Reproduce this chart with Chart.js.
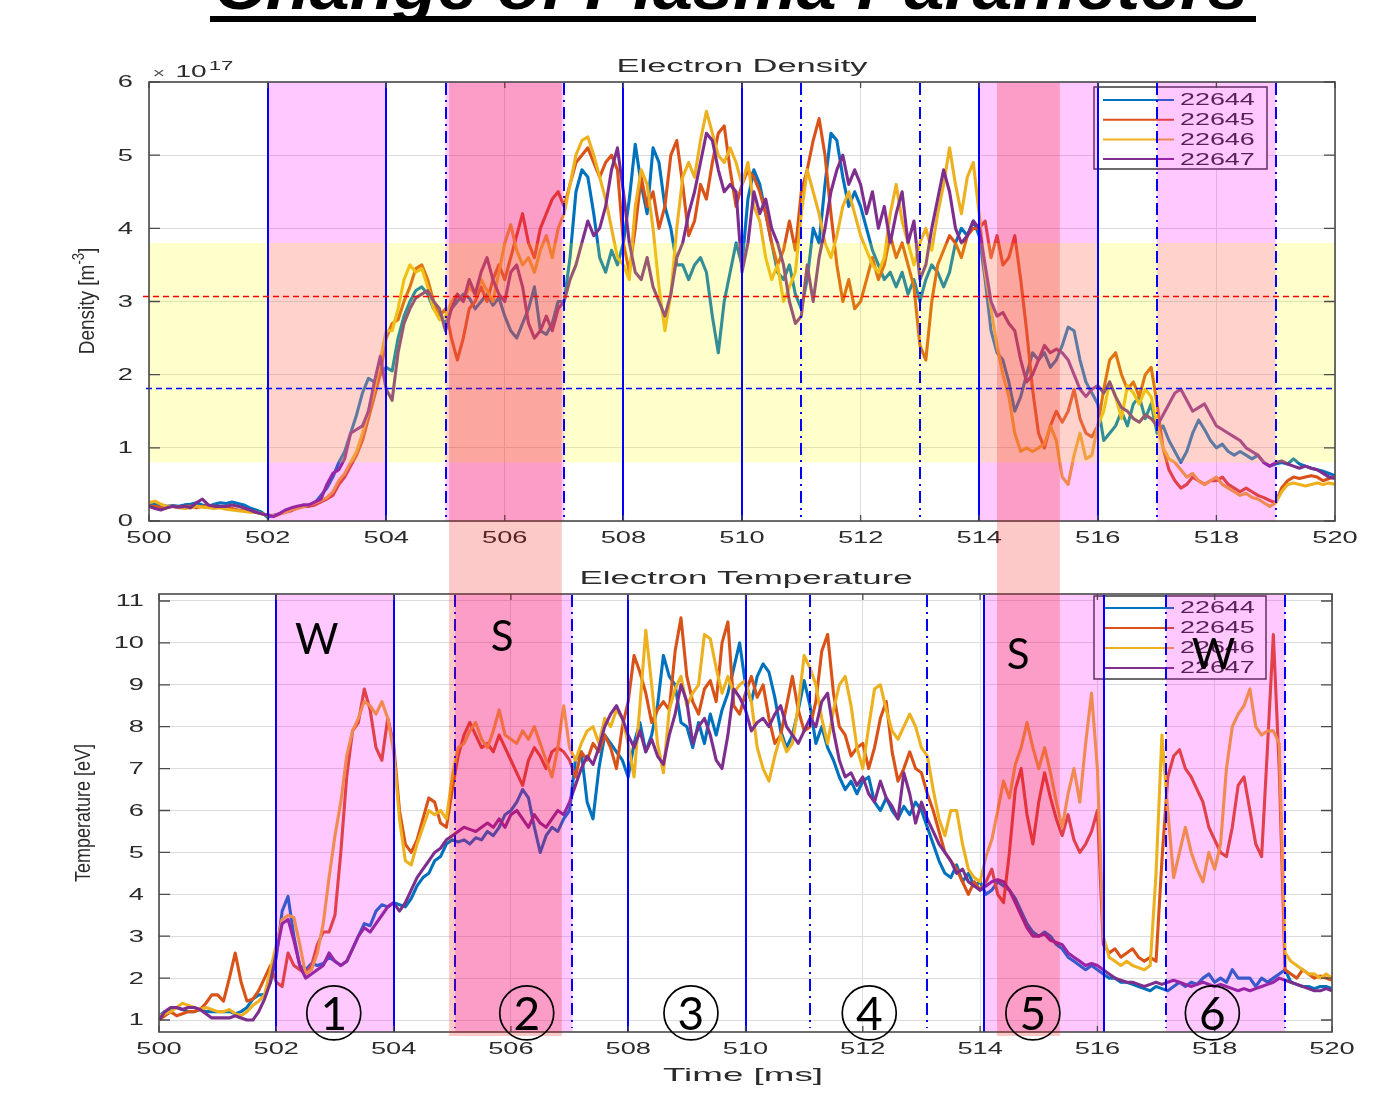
<!DOCTYPE html>
<html>
<head>
<meta charset="utf-8">
<script src="https://cdn.jsdelivr.net/npm/chart.js@4.4.0/dist/chart.umd.min.js"></script>
<style>
  html, body { margin: 0; padding: 0; background: #fff; width: 1400px; height: 1097px; overflow: hidden; }
  canvas { position: absolute; left: 0; }
  #densityCanvas { top: 0; }
  #tempCanvas { top: 560px; }
</style>
</head>
<body>
<canvas id="densityCanvas" width="1400" height="560"></canvas>
<canvas id="tempCanvas" width="1400" height="537"></canvas>
<script>
// ---- shots and colours ----
const shots = ['22644', '22645', '22646', '22647'];
const shotColors = ['#0072BD', '#D95319', '#EDB120', '#7E2F8E'];

// ---- sampling: 500.0 .. 520.0 ms every 0.1 ms ----
const timeStart = 500;
const timeStep = 0.1;

const timeTicks = [500, 502, 504, 506, 508, 510, 512, 514, 516, 518, 520];
const densityTicks = [0, 1, 2, 3, 4, 5, 6];
const tempTicks = [1, 2, 3, 4, 5, 6, 7, 8, 9, 10, 11];

// ---- electron density [1e17 m^-3] ----
const density22644 = [
  0.22,0.24,0.22,0.20,0.21,0.20,0.22,0.23,0.25,0.22,
  0.20,0.23,0.25,0.24,0.26,0.24,0.22,0.18,0.15,0.12,
  0.05,0.08,0.10,0.13,0.15,0.18,0.20,0.22,0.25,0.35,
  0.45,0.60,0.80,0.95,1.20,1.45,1.75,1.95,1.90,2.00,
  2.10,2.05,2.50,2.80,3.00,3.15,3.20,3.10,2.90,2.80,
  2.70,2.90,3.00,3.10,3.05,2.90,3.00,3.10,2.95,3.05,
  2.80,2.60,2.50,2.70,2.90,3.20,2.60,2.55,2.70,3.00,
  3.00,3.60,4.50,4.80,4.70,4.20,3.60,3.40,3.70,3.50,
  3.80,4.40,5.15,4.60,4.20,5.10,4.90,4.30,4.00,3.50,
  3.50,3.30,3.50,3.60,3.40,2.80,2.30,3.00,3.40,3.80,
  3.50,4.40,4.80,4.60,4.20,3.80,3.40,3.30,3.50,3.10,
  2.90,3.30,4.00,3.80,4.60,5.30,5.20,4.70,4.30,4.50,
  4.30,4.00,3.70,3.50,3.30,3.40,3.20,3.40,3.10,3.30,
  3.00,3.30,3.50,3.40,3.20,3.40,3.80,4.00,3.90,4.10,
  3.90,3.30,2.60,2.30,2.20,1.90,1.50,1.70,2.00,2.30,
  2.20,2.30,2.10,2.20,2.40,2.65,2.60,2.20,1.90,1.75,
  1.60,1.10,1.20,1.30,1.50,1.30,1.60,1.70,1.40,1.60,
  1.20,1.30,1.10,0.95,0.80,0.95,1.20,1.38,1.25,1.10,
  1.00,1.05,0.95,0.90,0.95,0.90,0.85,0.90,0.80,0.75,
  0.78,0.80,0.78,0.85,0.78,0.75,0.72,0.70,0.68,0.65,
  0.62
];
const density22645 = [
  0.20,0.20,0.18,0.18,0.20,0.19,0.20,0.20,0.18,0.20,
  0.20,0.20,0.19,0.18,0.17,0.15,0.14,0.13,0.12,0.10,
  0.08,0.07,0.10,0.12,0.14,0.18,0.20,0.20,0.22,0.26,
  0.30,0.35,0.50,0.60,0.75,0.90,1.10,1.40,1.70,2.00,
  2.50,2.70,2.75,3.00,3.20,3.45,3.50,3.30,3.00,2.80,
  2.90,2.50,2.20,2.50,2.90,3.00,3.20,3.00,3.30,3.50,
  3.30,3.60,3.90,4.20,3.80,3.60,4.00,4.20,4.40,4.50,
  4.30,4.60,4.90,5.00,5.10,4.90,4.70,4.90,5.00,4.80,
  3.80,3.40,4.00,4.70,4.30,4.50,4.00,4.30,5.00,5.20,
  4.60,3.90,4.10,4.60,4.40,4.90,5.30,5.40,4.80,4.30,
  4.60,4.80,4.70,4.50,4.20,3.80,3.50,3.70,4.10,3.70,
  4.50,4.80,5.20,5.50,5.00,4.20,3.50,3.00,3.30,2.90,
  3.00,3.30,3.60,3.30,3.50,3.90,3.60,3.80,3.50,3.20,
  2.40,2.20,3.00,3.50,3.70,3.90,3.80,3.60,3.90,4.00,
  4.00,4.10,3.60,3.90,3.50,3.60,3.90,3.30,2.60,1.80,
  1.20,1.00,1.30,1.50,1.35,1.50,1.80,1.40,1.20,1.15,
  1.30,1.80,2.20,2.30,2.00,1.80,1.90,1.70,2.00,2.10,
  1.60,1.00,0.70,0.55,0.45,0.50,0.60,0.55,0.50,0.55,
  0.55,0.60,0.50,0.45,0.40,0.45,0.40,0.35,0.32,0.28,
  0.25,0.45,0.55,0.60,0.58,0.60,0.62,0.60,0.55,0.58,
  0.60
];
const density22646 = [
  0.25,0.27,0.23,0.20,0.20,0.18,0.17,0.18,0.20,0.19,
  0.18,0.17,0.18,0.16,0.15,0.14,0.13,0.12,0.12,0.10,
  0.08,0.07,0.09,0.12,0.15,0.17,0.19,0.22,0.25,0.28,
  0.32,0.40,0.55,0.65,0.80,0.95,1.20,1.50,1.80,2.20,
  2.60,2.60,2.90,3.30,3.50,3.40,3.45,3.20,2.90,2.75,
  2.80,3.00,3.10,3.00,3.20,3.10,3.30,3.15,3.00,3.40,
  3.80,4.05,3.70,3.50,3.60,3.40,3.70,3.90,3.60,4.00,
  4.20,4.60,5.00,5.20,5.25,5.00,4.70,4.40,4.00,3.60,
  3.50,3.30,4.30,4.80,4.60,4.00,3.20,2.60,3.10,4.00,
  4.70,4.90,4.70,5.20,5.60,5.30,5.00,4.90,5.10,4.90,
  4.60,4.90,4.30,4.10,3.60,3.30,3.50,3.00,3.20,3.40,
  4.20,4.80,4.50,4.20,3.80,3.60,3.90,4.30,4.50,4.20,
  3.90,3.70,3.50,3.40,3.60,4.20,4.60,4.10,3.80,3.50,
  3.80,4.00,3.70,4.20,4.60,5.10,4.60,4.20,4.70,4.90,
  4.20,3.40,2.90,2.40,2.00,1.70,1.20,0.95,1.00,0.95,
  1.00,1.05,1.30,1.10,0.60,0.50,0.90,1.20,0.85,0.90,
  1.30,1.50,1.90,1.70,1.40,1.85,1.75,1.60,1.80,1.70,
  1.30,1.00,0.85,0.80,0.70,0.60,0.65,0.55,0.50,0.55,
  0.60,0.50,0.45,0.40,0.35,0.38,0.32,0.30,0.25,0.20,
  0.25,0.40,0.50,0.52,0.50,0.48,0.50,0.52,0.50,0.52,
  0.50
];
const density22647 = [
  0.20,0.17,0.15,0.18,0.20,0.19,0.20,0.18,0.25,0.30,
  0.22,0.20,0.20,0.20,0.22,0.20,0.18,0.15,0.12,0.10,
  0.08,0.06,0.10,0.15,0.18,0.20,0.22,0.22,0.26,0.30,
  0.50,0.65,0.70,0.85,1.20,1.25,1.30,1.50,1.90,2.25,
  1.80,1.65,2.30,2.70,2.90,3.05,3.10,3.15,3.00,2.90,
  2.60,2.90,3.10,3.00,3.30,3.10,3.40,3.60,3.30,3.10,
  3.00,3.40,3.50,3.20,2.70,2.50,2.60,2.80,2.60,2.90,
  3.00,3.30,3.50,3.80,4.10,3.90,4.00,4.30,4.80,5.10,
  4.50,3.80,3.40,3.30,3.60,3.20,3.00,2.80,3.10,3.60,
  3.80,4.20,4.50,4.90,5.30,5.20,4.80,4.50,4.60,4.50,
  3.40,3.80,4.50,4.20,4.40,4.00,3.80,3.50,3.00,2.70,
  2.80,3.50,3.00,3.60,4.00,4.50,4.80,5.00,4.60,4.80,
  4.60,4.20,4.50,4.00,4.30,3.80,4.20,4.50,3.80,4.10,
  3.30,3.50,4.00,4.40,4.80,4.50,4.00,3.80,3.90,4.10,
  4.00,3.50,3.00,2.80,2.85,2.70,2.60,2.20,1.90,2.00,
  2.20,2.40,2.30,2.35,2.30,2.20,2.00,1.80,1.70,1.80,
  1.85,1.75,1.90,1.70,1.55,1.50,1.40,1.35,1.45,1.40,
  1.30,1.45,1.60,1.75,1.80,1.65,1.50,1.55,1.60,1.45,
  1.30,1.25,1.20,1.15,1.10,1.00,0.95,0.90,0.80,0.75,
  0.80,0.82,0.78,0.75,0.72,0.75,0.72,0.70,0.65,0.60,
  0.58
];

// ---- electron temperature [eV] ----
const temp22644 = [
  1.10,1.20,1.25,1.30,1.25,1.20,1.20,1.25,1.20,1.20,
  1.20,1.20,1.20,1.15,1.20,1.30,1.50,1.60,1.60,1.90,
  2.50,3.60,3.95,3.00,2.30,2.20,2.35,2.30,2.35,2.50,
  2.40,2.30,2.40,2.70,3.00,3.30,3.25,3.60,3.75,3.70,
  3.80,3.75,3.70,3.90,4.20,4.40,4.50,4.80,4.90,5.20,
  5.30,5.25,5.30,5.20,5.35,5.30,5.50,5.40,5.60,5.90,
  6.00,6.20,6.50,6.30,5.60,5.00,5.40,5.60,5.50,5.80,
  6.00,7.20,7.40,6.20,5.80,7.00,7.80,7.60,7.40,7.20,
  6.80,7.60,8.10,7.40,7.80,8.50,9.70,9.20,9.00,8.10,
  8.00,7.50,8.10,7.60,8.30,7.80,8.40,8.80,9.40,10.00,
  9.00,8.60,9.20,9.50,9.30,8.70,7.90,7.50,7.80,8.40,
  9.10,8.50,7.60,8.00,7.50,7.20,6.80,6.50,6.70,6.40,
  6.70,6.80,6.20,6.00,6.30,6.00,5.80,6.10,5.90,6.20,
  6.00,5.60,5.20,4.80,4.50,4.40,4.70,4.30,4.50,4.20,
  4.30,4.00,4.10,4.30,4.20,4.10,3.90,3.60,3.30,3.10,
  3.00,3.10,3.00,2.80,2.70,2.50,2.40,2.30,2.20,2.30,
  2.20,2.10,2.00,2.00,1.90,1.90,1.85,1.80,1.75,1.70,
  1.80,1.75,1.70,1.80,1.90,1.80,1.90,1.85,2.00,2.10,
  1.90,2.00,1.90,2.20,2.00,2.00,2.00,1.80,2.00,1.90,
  2.00,2.10,2.20,1.90,1.85,1.80,1.80,1.75,1.80,1.80,
  1.75
];
const temp22645 = [
  1.00,1.10,1.20,1.10,1.15,1.20,1.20,1.25,1.40,1.60,
  1.60,1.45,2.00,2.60,1.90,1.45,1.50,1.70,2.00,2.30,
  1.90,1.80,2.60,2.30,2.20,2.10,2.30,2.80,3.10,3.10,
  3.50,5.00,6.80,7.90,8.10,8.90,8.40,7.50,7.20,8.20,
  7.60,6.00,5.20,5.00,5.30,5.80,6.30,6.20,5.70,5.60,
  6.50,7.30,7.80,8.10,7.80,7.50,7.60,7.40,7.80,7.50,
  7.20,6.90,6.60,7.20,7.50,7.30,7.00,7.40,7.50,7.40,
  7.20,6.80,7.40,7.20,7.60,7.40,7.80,7.50,7.00,8.00,
  8.60,9.70,9.30,8.80,8.10,8.40,8.60,8.40,9.80,10.60,
  9.20,8.60,8.30,8.90,9.10,8.60,10.00,10.50,8.50,8.30,
  8.80,9.20,8.70,9.00,8.20,7.60,7.80,8.50,9.20,8.40,
  7.90,8.00,8.60,9.80,10.20,8.80,8.00,7.80,7.30,7.50,
  7.60,7.00,7.50,8.20,8.60,7.40,6.70,7.00,7.40,7.00,
  6.90,6.40,6.00,5.50,5.00,4.80,4.60,4.30,4.00,4.30,
  4.10,4.30,4.60,4.00,3.80,5.00,6.50,7.00,5.90,5.20,
  6.20,6.90,6.30,5.80,5.40,5.90,5.30,5.00,5.20,5.50,
  6.00,2.80,2.60,2.70,2.50,2.60,2.70,2.50,2.40,2.50,
  2.40,4.80,6.80,7.30,7.45,7.00,6.80,6.50,6.20,5.60,
  5.30,5.00,4.90,5.60,6.60,6.80,6.00,5.20,4.90,7.50,
  10.20,7.00,2.20,2.10,2.00,2.20,2.10,2.00,2.05,2.00,
  1.95
];
const temp22646 = [
  1.10,1.15,1.20,1.30,1.40,1.35,1.30,1.25,1.30,1.25,
  1.20,1.20,1.25,1.15,1.10,1.20,1.35,1.45,1.60,2.20,
  2.80,3.40,3.50,3.45,2.80,2.10,2.20,2.60,3.30,4.40,
  5.40,6.20,7.30,7.90,8.20,8.60,8.50,8.30,8.60,8.20,
  7.40,5.80,4.80,4.70,5.20,5.60,6.00,5.90,6.00,5.80,
  6.80,7.50,7.60,7.90,8.10,7.70,7.50,7.90,8.40,7.80,
  7.70,7.60,7.90,7.70,8.00,7.60,7.20,6.80,7.50,8.50,
  7.50,7.20,7.60,7.90,8.00,7.60,8.20,8.00,8.40,8.20,
  7.60,6.80,8.50,10.30,9.00,7.60,6.90,8.40,8.90,9.20,
  8.50,8.80,9.00,10.20,10.10,9.40,8.80,9.20,8.80,9.00,
  9.10,8.60,7.50,7.00,6.70,7.30,7.80,7.40,7.60,8.50,
  9.70,9.40,9.00,8.20,7.60,8.40,9.00,9.20,8.50,7.50,
  7.00,8.00,8.90,9.00,8.40,7.90,7.70,8.00,8.30,8.00,
  7.50,7.30,6.50,5.80,5.40,6.00,6.00,5.20,4.60,4.40,
  4.30,4.90,5.30,6.00,6.70,6.30,7.10,7.50,8.10,7.50,
  7.00,7.50,6.90,6.20,5.60,6.40,7.00,6.20,7.60,8.80,
  7.00,3.00,2.50,2.40,2.30,2.40,2.30,2.25,2.20,2.30,
  4.50,7.80,6.00,4.40,5.00,5.60,5.00,4.60,4.30,5.00,
  4.60,5.20,7.00,8.00,8.30,8.50,8.90,8.00,7.80,7.90,
  7.90,7.60,2.60,2.40,2.30,2.20,2.10,2.10,2.00,2.10,
  2.00
];
const temp22647 = [
  1.00,1.20,1.30,1.30,1.25,1.30,1.30,1.25,1.15,1.05,
  1.05,1.05,1.05,1.10,1.05,1.00,1.00,1.20,1.50,1.90,
  2.60,3.30,3.40,2.90,2.30,2.00,2.10,2.20,2.30,2.60,
  2.40,2.30,2.40,2.70,3.00,3.20,3.10,3.30,3.50,3.70,
  3.80,3.60,3.80,4.10,4.40,4.60,4.80,5.00,5.10,5.30,
  5.40,5.50,5.60,5.55,5.50,5.60,5.70,5.60,5.80,5.60,
  5.90,6.00,5.80,5.60,5.90,5.70,5.60,5.80,6.00,5.90,
  6.20,6.60,7.00,7.30,7.10,7.50,8.00,8.30,8.50,8.20,
  7.80,7.50,7.90,7.40,7.70,7.30,7.10,7.80,8.30,9.00,
  8.60,7.60,8.00,8.20,7.80,7.20,7.00,7.80,8.90,8.70,
  8.40,7.90,8.10,8.20,8.00,8.30,8.50,8.00,7.80,7.60,
  7.90,8.20,8.00,8.60,8.80,7.90,7.20,6.80,6.90,6.60,
  6.80,6.40,6.20,6.70,6.30,6.10,5.80,6.90,6.40,5.70,
  6.20,5.80,5.50,5.20,5.00,4.80,4.50,4.60,4.30,4.20,
  4.10,4.20,4.30,4.35,4.30,4.10,3.80,3.50,3.20,3.00,
  3.00,3.05,2.90,2.85,2.80,2.60,2.50,2.40,2.30,2.35,
  2.30,2.20,2.10,2.00,1.95,1.90,1.90,1.85,1.80,1.85,
  1.90,1.85,1.90,1.95,1.90,1.85,1.80,1.85,1.90,1.85,
  1.80,1.85,1.80,1.75,1.70,1.75,1.70,1.75,1.80,1.85,
  1.90,2.00,1.95,1.90,1.85,1.80,1.75,1.70,1.70,1.75,
  1.70
];

const densitySeries = [density22644, density22645, density22646, density22647];
const tempSeries = [temp22644, temp22645, temp22646, temp22647];

// ---- phase markers (ms) ----
const densitySolidLines = [502, 504, 508, 510, 514, 516];
const densityDashDotLines = [505, 507, 511, 513, 517, 519];
const densityPhaseBands = [[502, 504], [505, 507], [514, 516], [517, 519]];
const densityWindow = [0.8, 3.8];
const densityRefRed = 3.08;
const densityRefBlue = 1.82;

const tempSolidLines = [502, 504, 508, 510, 514.07, 516.12];
const tempDashDotLines = [505.05, 507.05, 511.1, 513.1, 517.17, 519.2];
const tempPhaseBands = [[502, 504], [505.05, 507.05], [514.07, 516.12], [517.17, 519.2]];

// strong-phase highlight spanning both panels (time on the density axis)
const strongSpans = [[505.06, 506.96], [514.30, 515.36]];

// labels on the temperature panel: [text, time, value]
const regimeLabels = [['W', 502.69, 10.07], ['S', 505.85, 10.12], ['S', 514.65, 9.69], ['W', 517.98, 9.69]];
const phaseNumbers = [['1', 502.98, 1.17], ['2', 506.27, 1.17], ['3', 509.07, 1.17], ['4', 512.11, 1.17], ['5', 514.9, 1.17], ['6', 517.96, 1.17]];

// ---------------------------------------------------------------
const AXIS_FONT = '"Liberation Sans", Arial, sans-serif';
const TEXT_GREY = '#2b2b2b';
const MAGENTA = 'rgba(255,0,255,0.216)';
const YELLOW = 'rgba(255,255,0,0.2)';
const RED_VEIL = 'rgba(241,0,0,0.216)';

function toPoints(vals) {
  return vals.map((v, i) => ({ x: Math.round((timeStart + i * timeStep) * 10) / 10, y: v }));
}

function stretchText(ctx, txt, x, y, font, sx, align, color) {
  ctx.save();
  ctx.font = font;
  ctx.fillStyle = color;
  ctx.textAlign = align;
  ctx.textBaseline = 'middle';
  ctx.translate(x, y);
  ctx.scale(sx, 1);
  ctx.fillText(txt, 0, 0);
  ctx.restore();
}

function fitText(ctx, txt, cx, cy, font, width, color, baseline) {
  ctx.save();
  ctx.font = font;
  const w = ctx.measureText(txt).width;
  ctx.fillStyle = color;
  ctx.textAlign = 'center';
  ctx.textBaseline = baseline || 'middle';
  ctx.translate(cx, cy);
  ctx.scale(width / w, 1);
  ctx.fillText(txt, 0, 0);
  ctx.restore();
}

// vertical axis title made of runs (for superscripts); sx widens the glyphs
function verticalTitle(ctx, runs, cx, cy, sx, color) {
  ctx.save();
  ctx.fillStyle = color;
  ctx.textBaseline = 'middle';
  ctx.textAlign = 'left';
  let total = 0;
  runs.forEach(r => { ctx.font = r.font; r.w = ctx.measureText(r.text).width; total += r.w; });
  ctx.translate(cx, cy);
  ctx.scale(sx, 1);
  ctx.rotate(-Math.PI / 2);
  let u = -total / 2;
  runs.forEach(r => { ctx.font = r.font; ctx.fillText(r.text, u, r.dy || 0); u += r.w; });
  ctx.restore();
}

function fillTimeBands(chart, bands, color) {
  const { ctx, chartArea: a, scales: { x } } = chart;
  ctx.save();
  ctx.fillStyle = color;
  bands.forEach(([t0, t1]) => {
    const x0 = x.getPixelForValue(t0), x1 = x.getPixelForValue(t1);
    ctx.fillRect(x0, a.top, x1 - x0, a.bottom - a.top);
  });
  ctx.restore();
}

function drawVLines(chart, times, dash) {
  const { ctx, chartArea: a, scales: { x } } = chart;
  ctx.save();
  ctx.strokeStyle = '#0000FF';
  ctx.lineWidth = 2;
  ctx.setLineDash(dash);
  times.forEach(t => {
    const px = Math.round(x.getPixelForValue(t));
    ctx.beginPath();
    ctx.moveTo(px, a.top + 1);
    ctx.lineTo(px, a.bottom - (dash.length ? 4 : 0));
    ctx.stroke();
  });
  ctx.restore();
}

function drawLegend(ctx, bx, by, bw, bh, firstRow, rowH) {
  ctx.save();
  ctx.fillStyle = '#ffffff';
  ctx.fillRect(bx, by, bw, bh);
  ctx.strokeStyle = '#3a3a3a';
  ctx.lineWidth = 1.5;
  ctx.strokeRect(bx, by, bw, bh);
  shots.forEach((s, k) => {
    const cy = by + firstRow + k * rowH;
    ctx.strokeStyle = shotColors[k];
    ctx.lineWidth = 2;
    ctx.beginPath();
    ctx.moveTo(bx + 9, cy);
    ctx.lineTo(bx + 80, cy);
    ctx.stroke();
    stretchText(ctx, s, bx + 86, cy + 1, '16px ' + AXIS_FONT, 1.68, 'left', TEXT_GREY);
  });
  ctx.restore();
}

function drawFrameAndTicks(chart, yTicks, xLabelDy, yLabelDx, yTickLen) {
  const { ctx, chartArea: a, scales: { x, y } } = chart;
  ctx.save();
  ctx.strokeStyle = '#4a4a4a';
  ctx.lineWidth = 1.6;
  ctx.strokeRect(a.left, a.top, a.right - a.left, a.bottom - a.top);
  ctx.lineWidth = 1.3;
  ctx.beginPath();
  timeTicks.forEach(t => {
    const px = x.getPixelForValue(t);
    ctx.moveTo(px, a.bottom); ctx.lineTo(px, a.bottom - 6);
    ctx.moveTo(px, a.top); ctx.lineTo(px, a.top + 6);
  });
  yTicks.forEach(v => {
    const py = y.getPixelForValue(v);
    ctx.moveTo(a.left, py); ctx.lineTo(a.left + yTickLen, py);
    ctx.moveTo(a.right, py); ctx.lineTo(a.right - yTickLen, py);
  });
  ctx.stroke();
  ctx.restore();
  timeTicks.forEach(t => stretchText(ctx, String(t), x.getPixelForValue(t), a.bottom + xLabelDy, '16px ' + AXIS_FONT, 1.7, 'center', TEXT_GREY));
  yTicks.forEach(v => stretchText(ctx, String(v), a.left - yLabelDx, y.getPixelForValue(v) + 1, '16px ' + AXIS_FONT, 1.7, 'right', TEXT_GREY));
}

// time axis of the density panel, shared by the veil on both canvases
let densityTimeAxis = null;

// veil that runs across both panels over the strong phases
function drawStrongVeil(ctx, xs, yFrom, yTo) {
  if (!xs) return;
  ctx.save();
  ctx.fillStyle = RED_VEIL;
  strongSpans.forEach(([t0, t1]) => {
    const x0 = xs.getPixelForValue(t0), x1 = xs.getPixelForValue(t1);
    ctx.fillRect(x0, yFrom, x1 - x0, yTo - yFrom);
  });
  ctx.restore();
}

const densityDecor = {
  id: 'densityDecor',
  afterDatasetsDraw(chart) {
    const { ctx, chartArea: a, scales: { x, y } } = chart;
    drawLegend(ctx, 1094, 87, 173, 82, 13, 19.7);
    fillTimeBands(chart, densityPhaseBands, MAGENTA);
    // operating window
    ctx.save();
    ctx.fillStyle = YELLOW;
    const y0 = y.getPixelForValue(densityWindow[1]), y1 = y.getPixelForValue(densityWindow[0]);
    ctx.fillRect(a.left, y0, a.right - a.left, y1 - y0);
    ctx.restore();
    drawVLines(chart, densitySolidLines, []);
    drawVLines(chart, densityDashDotLines, [12, 5, 2, 5]);
    // reference levels
    ctx.save();
    ctx.lineWidth = 1.5;
    ctx.setLineDash([6, 4]);
    ctx.strokeStyle = '#FF0000';
    let py = Math.round(y.getPixelForValue(densityRefRed)) + 0.5;
    ctx.beginPath(); ctx.moveTo(a.left - 6, py); ctx.lineTo(a.right - 5, py); ctx.stroke();
    ctx.strokeStyle = '#0000FF';
    py = Math.round(y.getPixelForValue(densityRefBlue)) + 0.5;
    ctx.beginPath(); ctx.moveTo(a.left - 3, py); ctx.lineTo(a.right, py); ctx.stroke();
    ctx.restore();
  },
  afterDraw(chart) {
    const { ctx } = chart;
    densityTimeAxis = chart.scales.x;
    drawFrameAndTicks(chart, densityTicks, 18, 16, 11);
    // panel title and axis titles
    fitText(ctx, 'Electron Density', 742, 67, '18px ' + AXIS_FONT, 251, TEXT_GREY);
    verticalTitle(ctx, [
      { text: 'Density [m', font: '19px ' + AXIS_FONT },
      { text: '-3', font: '13px ' + AXIS_FONT, dy: -7 },
      { text: ']', font: '19px ' + AXIS_FONT }
    ], 88, 301, 1.2, TEXT_GREY);
    // exponent of the density axis
    stretchText(ctx, '\u00d7', 159, 74, '15px ' + AXIS_FONT, 1.4, 'center', '#555');
    stretchText(ctx, '10', 191, 73, '16px ' + AXIS_FONT, 1.75, 'center', TEXT_GREY);
    stretchText(ctx, '17', 221, 66, '13px ' + AXIS_FONT, 1.7, 'center', TEXT_GREY);
    // slide heading
    fitText(ctx, 'Change of Plasma Parameters', 731, 9, 'italic bold 64px "Liberation Sans", Arial, sans-serif', 1034, '#000', 'alphabetic');
    ctx.save();
    ctx.fillStyle = '#000';
    ctx.fillRect(210, 16, 1046, 6);
    ctx.restore();
    drawStrongVeil(ctx, chart.scales.x, 83, 560);
  }
};

function drawCircledNumber(ctx, txt, cx, cy) {
  ctx.save();
  ctx.strokeStyle = '#000';
  ctx.lineWidth = 1.7;
  ctx.beginPath();
  ctx.arc(cx, cy, 27, 0, Math.PI * 2);
  ctx.stroke();
  ctx.fillStyle = '#000';
  ctx.font = '46px Lato, "Open Sans", sans-serif';
  ctx.textAlign = 'center';
  ctx.textBaseline = 'middle';
  ctx.fillText(txt, cx, cy + 2);
  ctx.restore();
}

const tempDecor = {
  id: 'tempDecor',
  afterDatasetsDraw(chart) {
    const { ctx } = chart;
    drawLegend(ctx, 1094, 36, 172, 83, 12, 20);
    fillTimeBands(chart, tempPhaseBands, MAGENTA);
    drawVLines(chart, tempSolidLines, []);
    drawVLines(chart, tempDashDotLines, [12, 5, 2, 5]);
  },
  afterDraw(chart) {
    const { ctx, scales: { x, y } } = chart;
    drawFrameAndTicks(chart, tempTicks, 18, 15, 11);
    fitText(ctx, 'Electron Temperature', 746, 19, '18px ' + AXIS_FONT, 333, TEXT_GREY);
    fitText(ctx, 'Time [ms]', 743, 516, '19px ' + AXIS_FONT, 160, TEXT_GREY);
    verticalTitle(ctx, [{ text: 'Temperature [eV]', font: '18px ' + AXIS_FONT }], 84, 253, 1.25, TEXT_GREY);
    drawStrongVeil(ctx, densityTimeAxis, 0, 476);
    regimeLabels.forEach(([t, tx, v]) => {
      ctx.save();
      ctx.fillStyle = '#000';
      ctx.font = '42px Lato, "Open Sans", sans-serif';
      ctx.textAlign = 'center';
      ctx.textBaseline = 'middle';
      ctx.fillText(t, x.getPixelForValue(tx), y.getPixelForValue(v));
      ctx.restore();
    });
    phaseNumbers.forEach(([t, tx, v]) => drawCircledNumber(ctx, t, x.getPixelForValue(tx), y.getPixelForValue(v)));
  }
};

function makeChart(canvas, seriesList, yMin, yMax, yTicks, padding, plugin) {
  return new Chart(canvas, {
    type: 'line',
    data: {
      datasets: seriesList.map((vals, k) => ({
        label: shots[k],
        data: toPoints(vals),
        borderColor: shotColors[k],
        borderWidth: 3.1,
        pointRadius: 0,
        tension: 0,
        borderJoinStyle: 'round',
        order: 3 - k
      }))
    },
    options: {
      responsive: false,
      animation: false,
      events: [],
      layout: { padding },
      plugins: { legend: { display: false }, title: { display: false }, tooltip: { enabled: false } },
      scales: {
        x: {
          type: 'linear', min: 500, max: 520,
          afterBuildTicks: s => { s.ticks = timeTicks.map(v => ({ value: v })); },
          afterFit: s => { s.height = 0; },
          ticks: { display: false },
          grid: { color: '#dcdcdc', lineWidth: 1, drawTicks: false },
          border: { display: false }
        },
        y: {
          min: yMin, max: yMax,
          afterBuildTicks: s => { s.ticks = yTicks.map(v => ({ value: v })); },
          afterFit: s => { s.width = 0; },
          ticks: { display: false },
          grid: { color: '#dcdcdc', lineWidth: 1, drawTicks: false },
          border: { display: false }
        }
      }
    },
    plugins: [plugin]
  });
}

makeChart(document.getElementById('densityCanvas'), densitySeries, 0, 6, densityTicks,
  { left: 149, right: 65, top: 82, bottom: 39 }, densityDecor);
makeChart(document.getElementById('tempCanvas'), tempSeries, 0.714, 11.167, tempTicks,
  { left: 159, right: 68, top: 34, bottom: 65 }, tempDecor);
</script>
</body>
</html>
